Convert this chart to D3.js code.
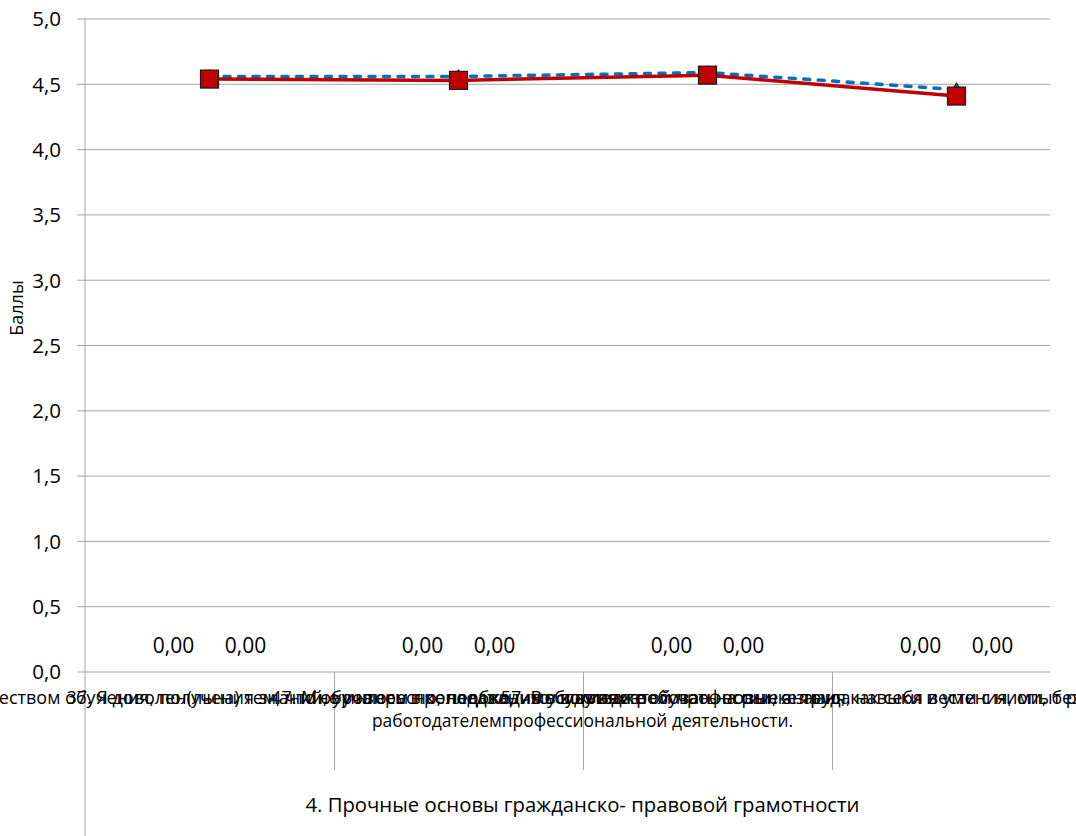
<!DOCTYPE html>
<html><head><meta charset="utf-8">
<script src="https://cdn.jsdelivr.net/npm/d3@7"></script>
<style>
html,body{margin:0;padding:0;background:#fff;}
text{font-family:"Open Sans","Noto Sans",sans-serif;fill:#000;}
</style></head>
<body><svg id="c" width="1076" height="836"></svg>
<script>
const categories = ["c1","c2","c3","c4"];
const categoryLabels = [
  "27. Я удовлетворён(а) качеством обучения, получения знаний, уровнем преподавания в колледже",
  "37. Я доволен(льна) тем, что обучаюсь в колледже, что буду востребован на рынке труда",
  "47. Мне интересно, необходимо в жизни получать новые знания, навыки и умения, опыт работы с",
  "57. В условиях этой профессии, я знаю, как себя вести с ними, безопасность, свои права и обязанности"
];
const categoryTail = "работодателемпрофессиональной деятельности.";
const groupLabel = "4. Прочные основы гражданско- правовой грамотности";
const seriesBlue = [4.56, 4.56, 4.59, 4.46];
const seriesRed = [4.54, 4.53, 4.57, 4.41];
const hiddenA = [0, 0, 0, 0];
const hiddenB = [0, 0, 0, 0];
const yTicks = [0, 0.5, 1, 1.5, 2, 2.5, 3, 3.5, 4, 4.5, 5];
const yTitle = "Баллы";

const svg = d3.select("#c");
const fmt1 = v => d3.format(".1f")(v).replace(".", ",");
const fmt2 = v => d3.format(".2f")(v).replace(".", ",");

const y = d3.scaleLinear().domain([0, 5]).range([672, 19]);
const x = d3.scaleBand().domain(categories).range([85, 1081]).padding(0);
const xs = d3.scaleBand().domain(["a","b"]).range([-72, 72]).paddingInner(0).paddingOuter(0);
const cx = (d, i) => x(categories[i]) + x.bandwidth() / 2;
const gridRight = 1050;

// gridlines
svg.append("g").selectAll("line").data(yTicks).join("line")
  .attr("x1", 77).attr("x2", gridRight)
  .attr("y1", d => y(d)).attr("y2", d => y(d))
  .attr("stroke", "#a6a6a6").attr("stroke-width", 1);

// y axis labels
svg.append("g").selectAll("text").data(yTicks).join("text")
  .attr("x", 61).attr("y", d => y(d)).attr("dy", "0.36em")
  .attr("text-anchor", "end").style("font-size", "20.5px").text(fmt1);

// y axis line
svg.append("line").attr("x1", 85).attr("x2", 85).attr("y1", y(5)).attr("y2", 836)
  .attr("stroke", "#a6a6a6").attr("stroke-width", 1);

// category separators
svg.append("g").selectAll("line").data(categories.slice(1)).join("line")
  .attr("x1", d => x(d) + 0.5).attr("x2", d => x(d) + 0.5)
  .attr("y1", y(0)).attr("y2", 770)
  .attr("stroke", "#a6a6a6").attr("stroke-width", 1);

// y title
svg.append("text").attr("transform", "translate(23,308) rotate(-90)")
  .attr("text-anchor", "middle").style("font-size", "18px").text(yTitle);

// hidden series labels
[[hiddenA, "a"], [hiddenB, "b"]].forEach(([arr, k]) => {
  svg.append("g").selectAll("text").data(arr).join("text")
    .attr("x", (d, i) => cx(d, i) + xs(k) + xs.bandwidth() / 2)
    .attr("y", d => y(d) - 19)
    .attr("text-anchor", "middle").style("font-size", "21px").text(fmt2);
});

// lines
const line = d3.line().x((d, i) => cx(d, i)).y(d => y(d));
svg.append("path").datum(seriesBlue).attr("d", line).attr("fill", "none")
  .attr("stroke", "#0070c0").attr("stroke-width", 3.5)
  .attr("stroke-dasharray", "6,8.5").attr("stroke-linecap", "round");
svg.append("path").datum(seriesRed).attr("d", line).attr("fill", "none")
  .attr("stroke", "#c00000").attr("stroke-width", 3.5);

// triangles
const tri = d3.symbol().type(d3.symbolTriangle).size(60);
svg.append("g").selectAll("path").data(seriesBlue).join("path")
  .attr("d", tri)
  .attr("transform", (d, i) => `translate(${cx(d, i)},${y(d)})`)
  .attr("fill", "#0070c0").attr("stroke", "#000").attr("stroke-width", 1);

// squares
const sq = 18;
svg.append("g").selectAll("rect").data(seriesRed).join("rect")
  .attr("x", (d, i) => cx(d, i) - sq / 2).attr("y", d => y(d) - sq / 2)
  .attr("width", sq).attr("height", sq)
  .attr("fill", "#c00000").attr("stroke", "#1a1a1a").attr("stroke-width", 1.2);

// category labels (overlapping, single line)
svg.append("g").selectAll("text").data(categoryLabels).join("text")
  .attr("x", (d, i) => cx(d, i)).attr("y", 704)
  .attr("text-anchor", "middle").style("font-size", "18px").text(d => d);

svg.append("text").attr("x", (x.range()[0] + x.range()[1]) / 2 - 0.5).attr("y", 727)
  .attr("text-anchor", "middle").style("font-size", "17.4px").text(categoryTail);

svg.append("text").attr("x", (x.range()[0] + x.range()[1]) / 2 - 0.5).attr("y", 812)
  .attr("text-anchor", "middle").style("font-size", "20.3px").text(groupLabel);
</script></body></html>
